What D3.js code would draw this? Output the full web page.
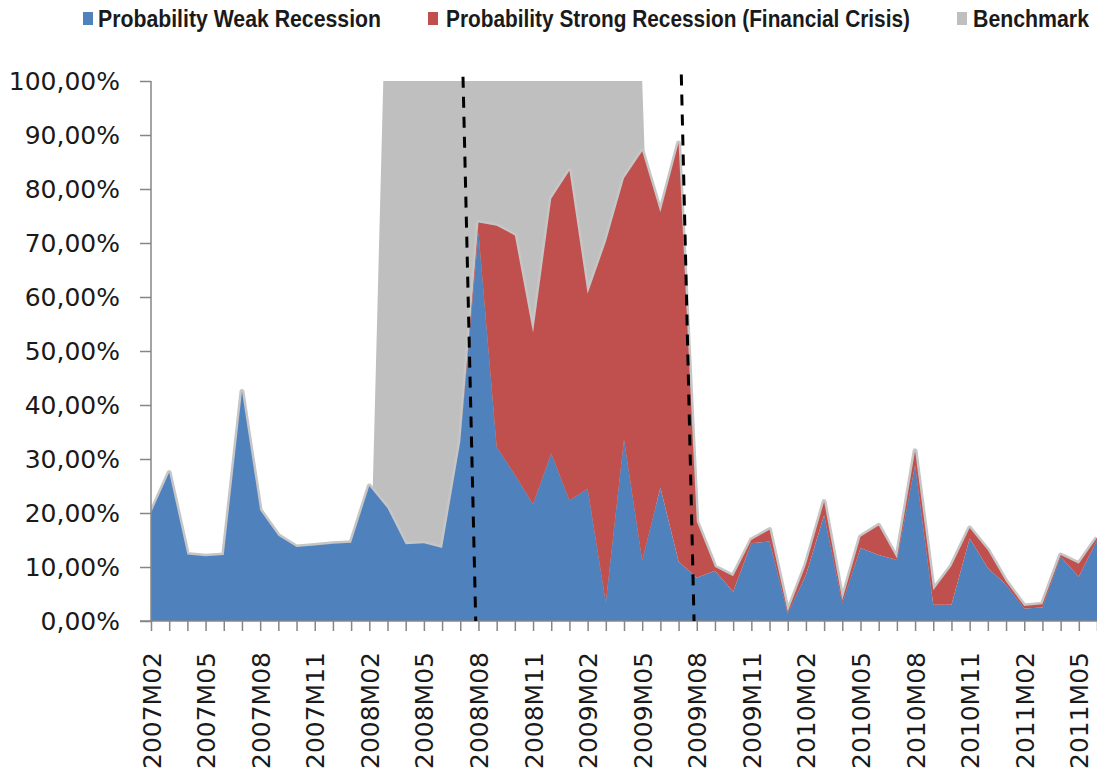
<!DOCTYPE html>
<html>
<head>
<meta charset="utf-8">
<script src="https://cdn.jsdelivr.net/npm/d3@7"></script>
<style>
    html, body { margin: 0; padding: 0; background: #fff; }
    svg { display: block; }
</style>
</head>
<body>
<svg id="chart"></svg>
<script>
// months on the category axis
const months = [
    "2007M02", "2007M03", "2007M04", "2007M05", "2007M06", "2007M07", "2007M08", "2007M09", "2007M10", "2007M11", "2007M12",
    "2008M01", "2008M02", "2008M03", "2008M04", "2008M05", "2008M06", "2008M07", "2008M08", "2008M09", "2008M10", "2008M11", "2008M12",
    "2009M01", "2009M02", "2009M03", "2009M04", "2009M05", "2009M06", "2009M07", "2009M08", "2009M09", "2009M10", "2009M11", "2009M12",
    "2010M01", "2010M02", "2010M03", "2010M04", "2010M05", "2010M06", "2010M07", "2010M08", "2010M09", "2010M10", "2010M11", "2010M12",
    "2011M01", "2011M02", "2011M03", "2011M04", "2011M05", "2011M06"
];

// probabilities in %
const weakRecession = [
    20.0, 27.5, 12.3, 12.0, 12.2, 42.5, 20.5, 15.8, 13.7, 14.0, 14.3,
    14.5, 25.0, 20.9, 14.2, 14.4, 13.5, 33.2, 72.0, 32.2, 27.1, 21.6, 31.0,
    22.3, 24.5, 3.4, 33.6, 11.2, 24.7, 11.0, 8.0, 9.3, 5.4, 14.4, 14.7,
    1.4, 8.5, 19.6, 3.3, 13.5, 12.2, 11.3, 28.9, 3.0, 3.0, 15.3, 9.8,
    6.7, 2.3, 2.5, 11.9, 8.2, 15.0
];
const strongRecession = [
    0, 0, 0, 0, 0, 0, 0, 0, 0, 0, 0,
    0, 0, 0, 0, 0, 0, 0, 1.8, 41.0, 44.3, 31.8, 47.2,
    61.1, 36.1, 66.8, 48.4, 75.8, 51.0, 77.5, 10.4, 0.7, 2.9, 0.6, 2.2,
    0.3, 1.9, 2.5, 0.6, 2.1, 5.5, 0.3, 2.6, 2.7, 7.2, 1.9, 3.3,
    0.6, 0.5, 0.6, 0.3, 2.4, 0.4
];
// benchmark runs past the 100% axis maximum at its first month, the plot clips it
const benchmark = [
    0, 0, 0, 0, 0, 0, 0, 0, 0, 0, 0,
    0, 0, 130, 100, 100, 100, 100, 100, 100, 100, 100, 100,
    100, 100, 100, 100, 100, 0, 0, 0, 0, 0, 0, 0,
    0, 0, 0, 0, 0, 0, 0, 0, 0, 0, 0, 0,
    0, 0, 0, 0, 0, 0
];

const yTicks = [0, 10, 20, 30, 40, 50, 60, 70, 80, 90, 100];
const labelEvery = 3;

// dashed markers: month position (index) at top and bottom of the line, in %
const markerLines = [
    { fromIndex: 17.15, toIndex: 17.85, fromValue: 100.8, toValue: 0 },
    { fromIndex: 29.15, toIndex: 29.85, fromValue: 101.2, toValue: 0 }
];

const seriesNames = ["Probability Weak Recession", "Probability Strong Recession (Financial Crisis)", "Benchmark"];
const seriesColours = ["#4f81bd", "#c0504d", "#bfbfbf"];

const Dims = {
    Width: 1097,
    Height: 778,
    GraphLeft: 151,
    GraphRight: 1097,
    GraphTop: 81,
    GraphBottom: 621,
    FontSize: 25
};

const svg = d3.select("#chart")
    .attr("width", Dims.Width)
    .attr("height", Dims.Height)
    .attr("font-family", "DejaVu Sans, sans-serif");

const data = months.map((m, i) => ({
    month: m,
    weak: weakRecession[i],
    strong: strongRecession[i],
    bench: benchmark[i]
}));

const x = d3.scalePoint()
    .domain(months)
    .range([Dims.GraphLeft, Dims.GraphRight]);

// fractional month index -> pixel, for the marker lines
const xIndex = d3.scaleLinear()
    .domain([0, months.length - 1])
    .range([Dims.GraphLeft, Dims.GraphRight]);

const y = d3.scaleLinear()
    .domain([0, 100])
    .range([Dims.GraphBottom, Dims.GraphTop]);

// clip to the plot area (axis max is 100%)
svg.append("defs")
    .append("clipPath")
    .attr("id", "plotClip")
    .append("rect")
    .attr("x", Dims.GraphLeft)
    .attr("y", y(100))
    .attr("width", Dims.GraphRight - Dims.GraphLeft)
    .attr("height", y(0) - y(100));

const plot = svg.append("g").attr("clip-path", "url(#plotClip)");

const stack = d3.stack().keys(["weak", "strong"]);
const stacked = stack(data);

// benchmark sits behind everything
plot.append("path")
    .datum(data)
    .attr("fill", seriesColours[2])
    .attr("d", d3.area()
        .x(d => x(d.month))
        .y0(y(0))
        .y1(d => y(d.bench)));

// light grey halo along the top of the stacked areas
plot.append("path")
    .datum(data)
    .attr("fill", "none")
    .attr("stroke", "#c6c6c6")
    .attr("stroke-width", 5)
    .attr("stroke-linejoin", "round")
    .attr("d", d3.line()
        .x(d => x(d.month))
        .y(d => y(d.weak + d.strong)));

const area = d3.area()
    .x(d => x(d.data.month))
    .y0(d => y(d[0]))
    .y1(d => y(d[1]));

plot.append("g")
    .selectAll("path")
    .data(stacked)
    .join("path")
    .attr("fill", (d, i) => seriesColours[i])
    .attr("d", area);

// y axis
svg.append("g")
    .attr("transform", `translate(${Dims.GraphLeft},0)`)
    .call(d3.axisLeft(y)
        .tickValues(yTicks)
        .tickSize(11)
        .tickPadding(20)
        .tickFormat(d => d.toFixed(2).replace(".", ",") + "%"))
    .call(g => g.selectAll(".domain").attr("stroke", "#868686").attr("stroke-width", 1.5).attr("d", `M0,${y(100)}V${y(0)}`))
    .call(g => g.selectAll(".tick line").attr("stroke", "#868686").attr("stroke-width", 1.5))
    .call(g => g.selectAll("text")
        .attr("font-size", Dims.FontSize)
        .attr("font-family", "DejaVu Sans, sans-serif")
        .attr("fill", "#1a1a1a"));

// x axis, a tick on every month, a label every third
svg.append("g")
    .attr("transform", `translate(0,${Dims.GraphBottom})`)
    .call(d3.axisBottom(x)
        .tickSize(10)
        .tickFormat((d, i) => i % labelEvery === 0 ? d : ""))
    .call(g => g.selectAll(".domain").attr("stroke", "#868686").attr("stroke-width", 1.5).attr("d", `M${Dims.GraphLeft - 11},0H${Dims.GraphRight}`))
    .call(g => g.selectAll(".tick line").attr("stroke", "#868686").attr("stroke-width", 1.5))
    .call(g => g.selectAll("text")
        .attr("font-size", Dims.FontSize)
        .attr("font-family", "DejaVu Sans, sans-serif")
        .attr("fill", "#1a1a1a")
        .attr("transform", "rotate(-90)")
        .attr("text-anchor", "end")
        .attr("x", -31)
        .attr("y", 0)
        .attr("dy", "0.36em"));

// dashed marker lines
svg.append("g")
    .selectAll("line")
    .data(markerLines)
    .join("line")
    .attr("x1", d => xIndex(d.fromIndex))
    .attr("y1", d => y(d.fromValue))
    .attr("x2", d => xIndex(d.toIndex))
    .attr("y2", d => y(d.toValue))
    .attr("stroke", "#000")
    .attr("stroke-width", 3)
    .attr("stroke-dasharray", "11 9");

// legend
const legendItems = [
    { name: seriesNames[0], colour: seriesColours[0], boxX: 83, textX: 98, textLen: 283 },
    { name: seriesNames[1], colour: seriesColours[1], boxX: 428, textX: 446, textLen: 464 },
    { name: seriesNames[2], colour: seriesColours[2], boxX: 957, textX: 973, textLen: 116 }
];

const legend = svg.append("g");
legend.selectAll("rect")
    .data(legendItems)
    .join("rect")
    .attr("x", d => d.boxX)
    .attr("y", 12)
    .attr("width", 10)
    .attr("height", 13)
    .attr("fill", d => d.colour);

legend.selectAll("text")
    .data(legendItems)
    .join("text")
    .attr("x", d => d.textX)
    .attr("y", 27)
    .attr("font-size", 23)
    .attr("font-weight", "bold")
    .attr("font-family", "Liberation Sans, Arial, sans-serif")
    .attr("fill", "#1a1a1a")
    .attr("textLength", d => d.textLen)
    .attr("lengthAdjust", "spacingAndGlyphs")
    .text(d => d.name);
</script>
</body>
</html>
